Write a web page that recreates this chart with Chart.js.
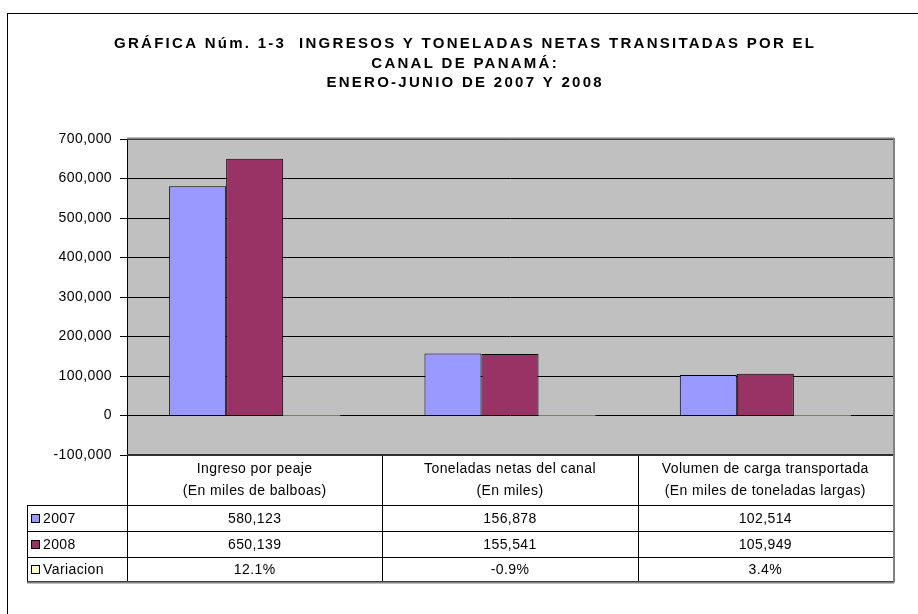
<!DOCTYPE html>
<html><head><meta charset="utf-8">
<script src="https://cdn.jsdelivr.net/npm/chart.js@4"></script>
<style>html,body{margin:0;padding:0;background:#fff;}#wrap{width:918px;height:614px;position:relative;}</style>
</head><body><div id="wrap"><canvas id="c" width="918" height="614"></canvas></div>
<script>
// ---- data ----
const titleLines = [
  'GRÁFICA Núm. 1-3  INGRESOS Y TONELADAS NETAS TRANSITADAS POR EL',
  'CANAL DE PANAMÁ:',
  'ENERO-JUNIO DE 2007 Y 2008'
];
const categories = [
  ['Ingreso por peaje', '(En miles de balboas)'],
  ['Toneladas netas del canal', '(En miles)'],
  ['Volumen de carga transportada', '(En miles de toneladas largas)']
];
const seriesNames = ['2007', '2008', 'Variacion'];
const values2007 = [580123, 156878, 102514];
const values2008 = [650139, 155541, 105949];
const variacionPct = [12.1, -0.9, 3.4];
const yMin = -100000, yMax = 700000, yStep = 100000;
const seriesColors = ['#9999FF', '#993366', '#FFFFCC'];

const FONT = '"Liberation Sans", Arial, sans-serif';
const SPACING = '0.4px';
const fmtNum = v => Math.round(v).toLocaleString('en-US');
const fmtPct = v => v.toFixed(1) + '%';
const tableRows = [
  values2007.map(fmtNum),
  values2008.map(fmtNum),
  variacionPct.map(fmtPct)
];

const bgPlugin = {
  id: 'bg',
  beforeDraw(chart) {
    const {ctx, chartArea: a} = chart;
    ctx.save();
    ctx.fillStyle = '#fff';
    ctx.fillRect(0, 0, chart.width, chart.height);
    ctx.fillStyle = '#C0C0C0';
    ctx.fillRect(a.left, a.top, a.right - a.left, a.bottom - a.top);
    ctx.restore();
    ctx.letterSpacing = SPACING;
  }
};

const tablePlugin = {
  id: 'table',
  afterDraw(chart) {
    const {ctx, chartArea: a} = chart;
    const xs = chart.scales.x;
    const centers = categories.map((_, i) => xs.getPixelForValue(i));
    const bounds = [a.left];
    for (let i = 0; i < centers.length - 1; i++) bounds.push((centers[i] + centers[i + 1]) / 2);
    bounds.push(a.right);
    const top = a.bottom;
    const headerBottom = top + 50;
    const rowH = 26;
    const rowsY = [headerBottom, headerBottom + rowH, headerBottom + 2 * rowH, headerBottom + 3 * rowH - 2];
    const legendLeft = 27;
    ctx.save();
    ctx.letterSpacing = SPACING;
    // lines
    ctx.strokeStyle = '#000';
    ctx.lineWidth = 1;
    ctx.beginPath();
    bounds.forEach(b => { const x = Math.round(b) + 0.5; ctx.moveTo(x, top); ctx.lineTo(x, rowsY[3]); });
    ctx.moveTo(legendLeft + 0.5, headerBottom); ctx.lineTo(legendLeft + 0.5, rowsY[3]);
    rowsY.forEach(y => { ctx.moveTo(legendLeft, y + 0.5); ctx.lineTo(a.right, y + 0.5); });
    ctx.stroke();
    // gray shadow edges
    ctx.strokeStyle = '#808080';
    ctx.lineWidth = 2;
    ctx.beginPath();
    ctx.moveTo(a.right + 1, a.top - 1); ctx.lineTo(a.right + 1, rowsY[3] + 1.5);
    ctx.moveTo(legendLeft, rowsY[3] + 1.5); ctx.lineTo(a.right + 1, rowsY[3] + 1.5);
    ctx.moveTo(a.left, a.top - 0.5); ctx.lineTo(a.right + 1, a.top - 0.5);
    ctx.stroke();
    ctx.strokeStyle = '#303030';
    ctx.lineWidth = 2;
    ctx.beginPath();
    ctx.moveTo(a.left, a.bottom); ctx.lineTo(a.right, a.bottom);
    ctx.stroke();
    // header text
    ctx.fillStyle = '#000';
    ctx.font = '14px ' + FONT;
    ctx.textAlign = 'center';
    ctx.textBaseline = 'middle';
    categories.forEach((lines, i) => {
      const cx = (bounds[i] + bounds[i + 1]) / 2;
      ctx.fillText(lines[0], cx, top + 14);
      ctx.fillText(lines[1], cx, top + 36);
    });
    // rows
    tableRows.forEach((row, r) => {
      const cy = (rowsY[r] + rowsY[r + 1]) / 2 + 1;
      row.forEach((txt, i) => {
        const cx = (bounds[i] + bounds[i + 1]) / 2;
        ctx.textAlign = 'center';
        ctx.fillText(txt, cx, cy);
      });
      // legend key
      ctx.fillStyle = seriesColors[r];
      ctx.fillRect(legendLeft + 4.5, Math.round(cy) - 4.5, 8, 8);
      ctx.strokeStyle = '#000'; ctx.lineWidth = 1;
      ctx.strokeRect(legendLeft + 4.5, Math.round(cy) - 4.5, 8, 8);
      ctx.fillStyle = '#000';
      ctx.textAlign = 'left';
      ctx.fillText(seriesNames[r], legendLeft + 16, cy);
    });
    // outer border
    ctx.strokeStyle = '#000'; ctx.lineWidth = 1;
    ctx.strokeRect(7.5, 13.5, 960, 700);
    // title
    ctx.font = 'bold 15px ' + FONT;
    ctx.textAlign = 'center';
    ctx.textBaseline = 'middle';
    ctx.letterSpacing = '0px';
    const w0 = ctx.measureText(titleLines[0]).width;
    const sp = Math.max(0, (702 - w0) / titleLines[0].length);
    ctx.letterSpacing = sp.toFixed(2) + 'px';
    const tY = [44, 64, 83];
    titleLines.forEach((t, i) => ctx.fillText(t, 464 + sp / 2, tY[i]));
    ctx.restore();
  }
};

new Chart(document.getElementById('c'), {
  type: 'bar',
  data: {
    labels: categories.map(c => c[0]),
    datasets: [
      {label: seriesNames[0], data: values2007, backgroundColor: seriesColors[0], borderColor: '#000', borderWidth: 1},
      {label: seriesNames[1], data: values2008, backgroundColor: seriesColors[1], borderColor: '#000', borderWidth: 1},
      {label: seriesNames[2], data: variacionPct.map(v => v / 100), backgroundColor: seriesColors[2], borderColor: '#000', borderWidth: 0}
    ]
  },
  options: {
    responsive: false,
    devicePixelRatio: 1,
    animation: false,
    layout: {padding: {left: 0, top: 139, right: 25, bottom: 159}},
    datasets: {bar: {categoryPercentage: 0.67, barPercentage: 1.0}},
    plugins: {legend: {display: false}, title: {display: false}, tooltip: {enabled: false}},
    scales: {
      x: {display: false},
      y: {
        min: yMin, max: yMax,
        afterFit(s) { s.width = 127; },
        ticks: {stepSize: yStep, callback: v => fmtNum(v), color: '#000', font: {family: FONT, size: 14}, padding: 8},
        grid: {color: '#000', lineWidth: 1, tickLength: 7, drawTicks: true},
        border: {display: true, color: '#000', width: 1}
      }
    }
  },
  plugins: [bgPlugin, tablePlugin]
});
</script>
</body></html>
